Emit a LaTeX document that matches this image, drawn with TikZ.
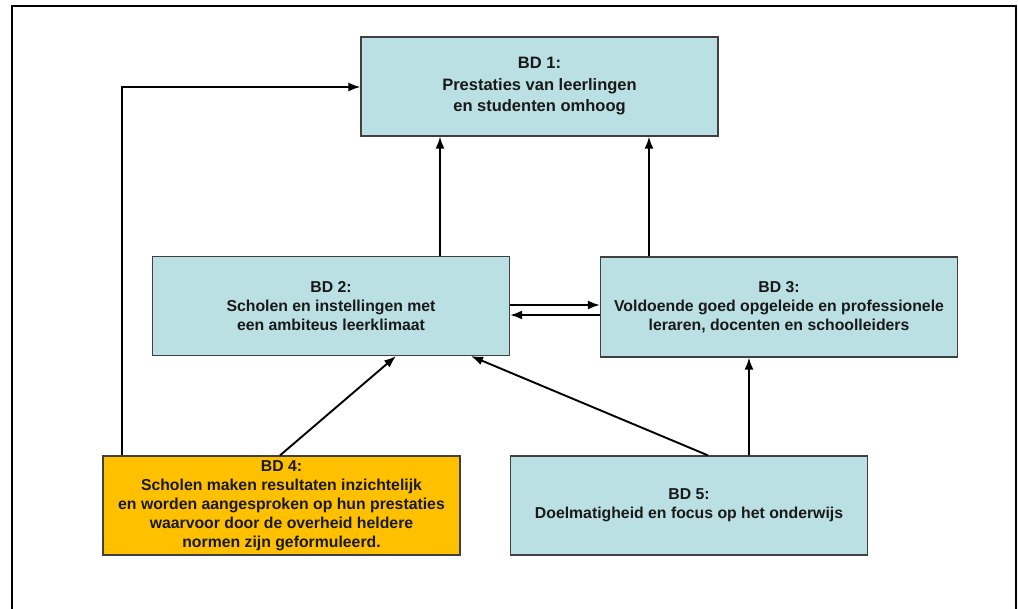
\documentclass[tikz,border=0pt]{standalone}
\usepackage{fontspec}
\setmainfont{Liberation Sans}
\usetikzlibrary{arrows.meta}
\definecolor{boxblue}{HTML}{BBE0E3}
\definecolor{boxorange}{HTML}{FFC000}
\definecolor{boxline}{HTML}{404040}
\begin{document}
\begin{tikzpicture}[x=1pt,y=-1pt,
  box/.style={draw=boxline,line width=1.2pt,fill=boxblue,minimum width=357pt,minimum height=99pt,
    align=center,inner sep=1pt,font=\bfseries\fontsize{15.8}{19}\selectfont,text=black!90},
  conn/.style={line width=1.9pt,-{Latex[length=12pt,width=9pt]}}]
\useasboundingbox (0,0) rectangle (1018,609);
\draw[line width=2.2pt] (12,609) -- (12,6) -- (1016,6) -- (1016,609);
\node[box,font=\bfseries\fontsize{16.5}{21.5}\selectfont] (b1) at (539.5,86.5) {BD 1:\\Prestaties van leerlingen\\en studenten omhoog};
\node[box] (b2) at (331,306) {BD 2:\\Scholen en instellingen met\\een ambiteus leerklimaat};
\node[box,minimum height=100pt] (b3) at (779,307) {BD 3:\\Voldoende goed opgeleide en professionele\\leraren, docenten en schoolleiders};
\node[box,fill=boxorange] (b4) at (281.5,505.5) {BD 4:\\Scholen maken resultaten inzichtelijk\\en worden aangesproken op hun prestaties\\waarvoor door de overheid heldere\\normen zijn geformuleerd.};
\node[box] (b5) at (689,505.5) {BD 5:\\Doelmatigheid en focus op het onderwijs};
\draw[conn] (440,0 |- b2.north) -- (440,0 |- b1.south);
\draw[conn] (649,0 |- b3.north) -- (649,0 |- b1.south);
\draw[conn] (b2.east |- 0,305) -- (b3.west |- 0,305);
\draw[conn] (b3.west |- 0,315) -- (b2.east |- 0,315);
\draw[conn] (280,0 |- b4.north) -- (396,0 |- b2.south);
\draw[conn] (708,0 |- b5.north) -- (471,0 |- b2.south);
\draw[conn] (749,0 |- b5.north) -- (749,0 |- b3.south);
\draw[conn] (122,0 |- b4.north) -- (122,87) -- (b1.west |- 0,87);
\end{tikzpicture}
\end{document}
